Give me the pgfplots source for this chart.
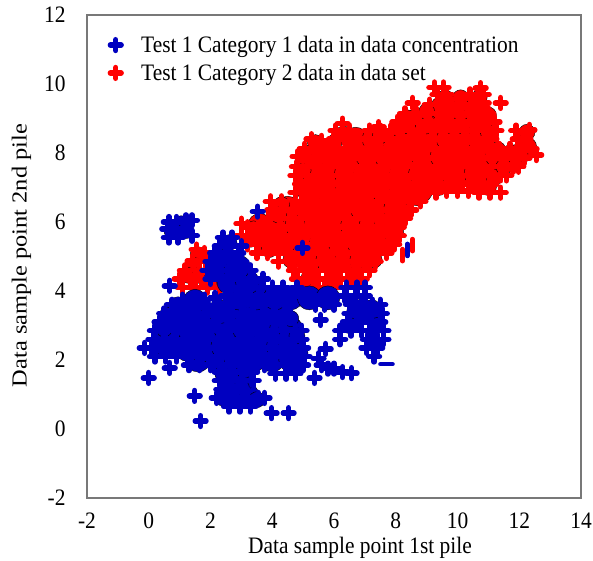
\documentclass[border=0pt]{standalone}
\usepackage{graphicx}
\usepackage{pgfplots}
\pgfplotsset{compat=1.18}
\usepackage{fontspec}
\setmainfont{Liberation Serif}
\definecolor{myblue}{RGB}{0,0,192}
\definecolor{myred}{RGB}{255,0,0}
\definecolor{axgray}{RGB}{120,120,120}
\newcommand\T[1]{\scalebox{1}[1.1]{#1}}
\newcommand\R[1]{\scalebox{1.14}[1]{#1}}
\pgfplotsset{pl/.style={only marks,mark=+,mark size=5.4bp,color=#1,mark options={line width=5.4bp,line cap=round,solid,color=#1}},
 bl/.style={only marks,mark=*,mark size=12bp,forget plot,mark options={draw=none,fill=#1}},
 bs/.style={only marks,mark=*,mark size=8bp,forget plot,mark options={draw=none,fill=#1}}}
\begin{document}
\begin{tikzpicture}[x=1bp,y=1bp]
\path[use as bounding box] (-87bp,-63bp) rectangle (506bp,498bp);
\begin{axis}[
 at={(0,0)},anchor=south west,
 scale only axis,width=494bp,height=483bp,
 xmin=-2,xmax=14,ymin=-2,ymax=12,
 xtick={-2,0,...,14},ytick={-2,0,...,12},
 xticklabels={\T{-2},\T{0},\T{2},\T{4},\T{6},\T{8},\T{10},\T{12},\T{14}},
 yticklabels={\T{-2},\T{0},\T{2},\T{4},\T{6},\T{8},\T{10},\T{12}},
 major tick length=0pt,
 axis line style={draw=axgray,line width=1.1bp},
 tick label style={font=\fontsize{21.5}{21.5}\selectfont},
 xticklabel style={yshift=-11bp},
 yticklabel style={xshift=-18bp},
 label style={font=\fontsize{21.5}{21.5}\selectfont},
 xlabel={\T{Data sample point 1st pile}},
 ylabel={\R{Data sample point 2nd pile}},
 xlabel style={xshift=26bp,yshift=-2bp},
 ylabel style={yshift=6bp,xshift=1bp},
 clip=true,
 legend style={draw=none,fill=none,at={(axis cs:-1.25,11.45)},anchor=north west,
   font=\fontsize{21.5}{21.5}\selectfont,row sep=6bp,inner sep=0pt,
   legend cell align=left},
]
% Category 2 (red), underneath
\addplot[bl=myred] coordinates {
(5.2,4.9)(5.8,4.9)(6.4,4.9)(6.9,4.9)
(3.8,5.4)(4.4,5.4)(5,5.4)(5.6,5.4)(6.2,5.4)(6.8,5.4)(7.4,5.4)
(3.6,5.9)(4.2,5.9)(4.8,5.9)(5.4,5.9)(6,5.9)(6.6,5.9)(7.2,5.9)(7.7,5.9)
(4.5,6.4)(5.1,6.4)(5.7,6.4)(6.3,6.4)(6.9,6.4)(7.5,6.4)(8.0,6.4)
(5.2,6.9)(5.8,6.9)(6.4,6.9)(7,6.9)(7.6,6.9)(8.2,6.9)(8.8,6.9)
(5.2,7.4)(5.8,7.4)(6.4,7.4)(7,7.4)(7.6,7.4)(8.2,7.4)(8.8,7.4)(9.4,7.4)(10,7.4)(10.6,7.4)(11.1,7.4)
(5.3,7.9)(5.9,7.9)(6.5,7.9)(7.1,7.9)(7.7,7.9)(8.3,7.9)(8.9,7.9)(9.5,7.9)(10.1,7.9)(10.7,7.9)(11.3,7.9)(11.9,7.9)
(6.7,8.4)(7.3,8.4)(7.9,8.4)(8.5,8.4)(9.1,8.4)(9.7,8.4)(10.3,8.4)(10.7,8.4)
(8.4,8.9)(9,8.9)(9.6,8.9)(10.2,8.9)(10.7,8.9)
(9.5,9.3)(10.1,9.3)(10.6,9.3)
};
\addplot[bs=myred] coordinates {
(5.0,7.1)(5.0,7.5)(5.0,7.9)(5.4,8.3)(6.0,8.3)(6.3,8.55)(7.5,8.5)(8.1,8.7)(8.5,9.0)(9.0,9.2)(9.6,9.6)(10.1,9.6)(10.7,9.6)(11.0,9.1)(11.0,8.6)
(11.3,8.1)(11.7,8.0)(12.1,8.0)(12.3,8.2)(12.25,8.6)(11.2,7.3)(11.5,7.6)(11,7.0)(10.0,7.1)(9.4,7.0)(8.7,6.7)(8.3,6.3)(8.0,5.7)(7.7,5.3)(7.3,4.9)(6.7,4.5)(6.0,4.4)(5.2,4.4)(4.6,4.9)(3.9,5.2)(3.3,5.5)(3.4,5.8)(4.3,6.5)(4.2,6.2)
(1.6,5.05)(1.45,4.75)(1.3,4.45)(1.65,4.45)(1.95,4.25)
};
\addplot[pl=myred,forget plot] coordinates {
(1.1,4.1)(1.5,4.1)(1.9,4.1)(2.3,4.1)(5.0,4.1)(5.35,4.1)(5.7,4.1)(6.0,4.1)
(1.0,4.35)(1.35,4.35)(1.7,4.35)(2.05,4.35)(2.3,4.35)(4.8,4.35)(5.15,4.35)(5.5,4.35)(5.85,4.35)(6.2,4.35)(6.55,4.35)(6.9,4.35)
(1.17,4.6)(1.65,4.6)(2.0,4.6)(4.7,4.6)(5.05,4.6)(5.4,4.6)(5.75,4.6)(6.1,4.6)(6.45,4.6)(6.8,4.6)(7.15,4.6)
(1.42,4.87)(1.85,4.85)(4.2,4.85)(4.55,4.85)(4.9,4.85)(5.25,4.85)(5.6,4.85)(5.95,4.85)(6.3,4.85)(6.65,4.85)(7.0,4.85)(7.35,4.85)
(1.55,5.2)(1.8,5.1)(3.5,5.1)(3.85,5.1)(4.2,5.1)(4.55,5.1)(4.9,5.1)(5.25,5.1)(5.6,5.1)(5.95,5.1)(6.3,5.1)(6.65,5.1)(7.0,5.1)(7.35,5.1)(7.7,5.1)
(3.2,5.35)(3.55,5.35)(3.9,5.35)(4.25,5.35)(4.6,5.35)(4.95,5.35)(5.3,5.35)(5.65,5.35)(6.0,5.35)(6.35,5.35)(6.7,5.35)(7.05,5.35)(7.4,5.35)(7.75,5.35)(7.95,5.35)
(3.0,5.6)(3.35,5.6)(3.7,5.6)(4.05,5.6)(4.4,5.6)(4.75,5.6)(5.1,5.6)(5.45,5.6)(5.8,5.6)(6.15,5.6)(6.5,5.6)(6.85,5.6)(7.2,5.6)(7.55,5.6)(7.9,5.6)(8.1,5.6)
(3.0,5.95)(3.2,5.85)(3.55,5.85)(3.9,5.85)(4.25,5.85)(4.6,5.85)(4.95,5.85)(5.3,5.85)(5.65,5.85)(6.0,5.85)(6.35,5.85)(6.7,5.85)(7.05,5.85)(7.4,5.85)(7.75,5.85)(8.1,5.85)
(3.9,6.1)(4.25,6.1)(4.6,6.1)(4.95,6.1)(5.3,6.1)(5.65,6.1)(6.0,6.1)(6.35,6.1)(6.7,6.1)(7.05,6.1)(7.4,6.1)(7.75,6.1)(8.1,6.1)(8.3,6.1)
(4.0,6.35)(4.35,6.35)(4.7,6.35)(5.05,6.35)(5.4,6.35)(5.75,6.35)(6.1,6.35)(6.45,6.35)(6.8,6.35)(7.15,6.35)(7.5,6.35)(7.85,6.35)(8.2,6.35)(8.5,6.35)
(3.95,6.6)(4.3,6.6)(4.95,6.6)(5.3,6.6)(5.65,6.6)(6.0,6.6)(6.35,6.6)(6.7,6.6)(7.05,6.6)(7.4,6.6)(7.75,6.6)(8.1,6.6)(8.45,6.6)(8.8,6.6)
(4.75,6.85)(5.1,6.85)(5.45,6.85)(5.8,6.85)(6.15,6.85)(6.5,6.85)(6.85,6.85)(7.2,6.85)(7.55,6.85)(7.9,6.85)(8.25,6.85)(8.6,6.85)(8.95,6.85)(9.3,6.85)(9.65,6.9)(10.0,6.9)(10.35,6.9)(10.7,6.85)(11.05,6.85)(11.4,6.85)
(4.9,7.1)(5.25,7.1)(5.6,7.1)(5.95,7.1)(6.3,7.1)(6.65,7.1)(7.0,7.1)(7.35,7.1)(7.7,7.1)(8.05,7.1)(8.4,7.1)(8.75,7.1)(9.1,7.1)(9.45,7.1)(9.8,7.1)(10.15,7.1)(10.5,7.1)(10.85,7.1)(11.1,7.1)
(4.75,7.35)(5.1,7.35)(5.45,7.35)(5.8,7.35)(6.15,7.35)(6.5,7.35)(6.85,7.35)(7.2,7.35)(7.55,7.35)(7.9,7.35)(8.25,7.35)(8.6,7.35)(8.95,7.35)(9.3,7.35)(9.65,7.35)(10.0,7.35)(10.35,7.35)(10.7,7.35)(11.05,7.35)(11.4,7.35)(11.58,7.35)
(4.8,7.6)(5.15,7.6)(5.5,7.6)(5.85,7.6)(6.2,7.6)(6.55,7.6)(6.9,7.6)(7.25,7.6)(7.6,7.6)(7.95,7.6)(8.3,7.6)(8.65,7.6)(9.0,7.6)(9.35,7.6)(9.7,7.6)(10.05,7.6)(10.4,7.6)(10.75,7.6)(11.1,7.6)(11.45,7.6)(11.8,7.6)(11.97,7.6)
(4.82,7.9)(5.17,7.85)(5.52,7.85)(5.87,7.85)(6.22,7.85)(6.57,7.85)(6.92,7.85)(7.27,7.85)(7.62,7.85)(7.97,7.85)(8.32,7.85)(8.67,7.85)(9.02,7.85)(9.37,7.85)(9.72,7.85)(10.07,7.85)(10.42,7.85)(10.77,7.85)(11.12,7.85)(11.47,7.85)(11.82,7.85)(12.17,7.85)(12.55,7.94)
(5.05,8.12)(5.4,8.12)(5.75,8.12)(6.1,8.12)(6.45,8.12)(6.8,8.12)(7.15,8.12)(7.5,8.12)(7.85,8.12)(8.2,8.12)(8.55,8.12)(8.9,8.12)(9.25,8.12)(9.6,8.12)(9.95,8.12)(10.3,8.12)(10.65,8.12)(11.0,8.12)(11.35,8.12)(11.7,8.12)(12.05,8.12)(12.4,8.12)
(5.27,8.4)(5.6,8.35)(6.0,8.4)(6.35,8.4)(6.7,8.4)(7.05,8.4)(7.4,8.4)(7.75,8.4)(8.1,8.4)(8.45,8.4)(8.8,8.4)(9.15,8.4)(9.5,8.4)(9.85,8.4)(10.2,8.4)(10.55,8.4)(10.9,8.4)(11.1,8.4)(11.95,8.4)(12.2,8.4)
(6.05,8.65)(6.5,8.65)(7.15,8.65)(7.5,8.65)(7.85,8.65)(8.2,8.65)(8.55,8.65)(8.9,8.65)(9.25,8.65)(9.6,8.65)(9.95,8.65)(10.3,8.65)(10.65,8.65)(11.0,8.65)(11.26,8.65)(11.9,8.65)(12.33,8.67)
(6.28,8.85)(7.45,8.75)(8.05,8.9)(8.4,8.9)(8.75,8.9)(9.1,8.9)(9.45,8.9)(9.8,8.9)(10.15,8.9)(10.5,8.9)(10.85,8.9)(11.2,8.9)
(8.3,9.15)(8.65,9.15)(9.0,9.15)(9.35,9.15)(9.7,9.15)(10.05,9.15)(10.4,9.15)(10.75,9.15)(11.0,9.15)
(8.55,9.45)(9.1,9.4)(9.45,9.4)(9.8,9.4)(10.15,9.4)(10.5,9.4)(10.85,9.45)(11.4,9.45)
(9.35,9.7)(9.65,9.7)(10.4,9.7)(10.85,9.7)
(9.25,9.9)(9.55,9.9)(10.75,9.88)
};
% Category 1 (blue)
\addplot[bl=myblue] coordinates {
(2.6,0.95)(3.2,0.95)(2.6,1.4)(3.0,1.4)
(1.6,2.0)(2.2,2.0)(2.8,2.0)(3.4,2.0)(4.0,2.0)(4.6,2.0)
(0.6,2.4)(1.2,2.4)(1.8,2.4)(2.4,2.4)(3.0,2.4)(3.6,2.4)(4.2,2.4)(4.6,2.4)
(0.7,2.9)(1.3,2.9)(1.9,2.9)(2.5,2.9)(3.1,2.9)(3.7,2.9)(4.3,2.9)(4.6,2.9)
(1.0,3.4)(1.6,3.4)(2.3,3.4)(3.1,3.4)(3.7,3.4)(4.0,3.4)(6.8,3.4)(7.2,3.4)
(1.5,3.7)(2.9,3.8)(3.5,3.8)(4.1,3.8)(4.6,3.8)(5.2,3.8)(5.8,3.8)
(2.6,4.25)(3.2,4.25)(2.4,4.7)(2.9,4.7)
};
\addplot[bs=myblue] coordinates {
(0.3,2.5)(0.5,2.9)(0.6,3.3)(0.95,3.6)(1.2,2.2)(1.7,2.15)(2.2,1.9)(4.9,2.2)(4.8,2.7)(4.6,3.2)(2.5,1.2)(3.0,1.2)(2.4,1.6)(3.1,1.7)(2.4,0.9)(3.5,0.85)
(6.5,3.0)(7.4,3.0)(7.3,2.5)(2.2,4.6)(2.3,5.0)(2.6,5.4)(0.85,5.8)(1.05,5.95)(0.75,5.75)(1.2,5.75)
};
\addplot[pl=myblue] coordinates {
(0,1.48)(0.68,1.77)(1.49,0.96)(1.68,0.23)(3.98,0.46)(4.53,0.46)(5.37,1.48)(5.73,2.32)(5.57,3.16)(6.57,1.62)(6.28,1.65)
(2.6,0.65)(2.95,0.65)(3.3,0.65)
(2.2,0.9)(2.5,0.9)(2.85,0.9)(3.2,0.9)(3.55,0.9)(3.75,0.9)
(2.35,1.15)(2.7,1.15)(3.05,1.15)
(2.3,1.4)(2.65,1.4)(3.0,1.4)(3.4,1.4)
(2.3,1.65)(2.65,1.65)(3.0,1.65)(3.35,1.65)(4.1,1.6)(4.45,1.6)(4.75,1.6)(5.8,1.75)(6.0,1.75)
(1.3,1.85)(1.65,1.85)(2.0,1.85)(2.35,1.85)(2.7,1.85)(3.05,1.85)(3.4,1.85)(3.75,1.85)(4.1,1.85)(4.45,1.85)(4.8,1.85)(5.0,1.85)(5.6,1.85)
(0.2,2.1)(0.55,2.1)(0.9,2.1)(1.25,2.1)(1.6,2.1)(1.95,2.1)(2.3,2.1)(2.65,2.1)(3.0,2.1)(3.35,2.1)(3.7,2.1)(4.05,2.1)(4.4,2.1)(4.75,2.1)(5.05,2.1)(5.5,2.05)(7.3,2.1)
(-0.13,2.35)(0.1,2.35)(0.45,2.35)(0.8,2.35)(1.15,2.35)(1.5,2.35)(1.85,2.35)(2.2,2.35)(2.55,2.35)(2.9,2.35)(3.25,2.35)(3.6,2.35)(3.95,2.35)(4.3,2.35)(4.65,2.35)(5.0,2.35)(7.05,2.35)(7.4,2.35)
(0.15,2.6)(0.5,2.6)(0.85,2.6)(1.2,2.6)(1.55,2.6)(1.9,2.6)(2.25,2.6)(2.6,2.6)(2.95,2.6)(3.3,2.6)(3.65,2.6)(4.0,2.6)(4.35,2.6)(4.7,2.6)(4.95,2.6)(6.2,2.6)(7.1,2.6)(7.4,2.6)(7.6,2.6)
(0.2,2.85)(0.55,2.85)(0.9,2.85)(1.25,2.85)(1.6,2.85)(1.95,2.85)(2.3,2.85)(2.65,2.85)(3.0,2.85)(3.35,2.85)(3.7,2.85)(4.05,2.85)(4.4,2.85)(4.75,2.85)(4.95,2.85)(6.2,2.85)(6.55,2.85)(6.9,2.85)(7.25,2.85)(7.6,2.85)
(0.35,3.1)(0.7,3.1)(1.05,3.1)(1.4,3.1)(1.75,3.1)(2.1,3.1)(2.7,3.1)(3.05,3.1)(3.4,3.1)(3.75,3.1)(4.1,3.1)(4.3,3.1)(6.45,3.1)(6.8,3.1)(7.15,3.1)(7.5,3.1)
(0.5,3.35)(0.85,3.35)(1.2,3.35)(1.55,3.35)(1.9,3.35)(2.3,3.3)(2.65,3.35)(3.0,3.35)(3.35,3.35)(3.7,3.35)(4.05,3.35)(4.4,3.35)(6.5,3.35)(6.85,3.35)(7.2,3.35)(7.55,3.35)
(0.75,3.6)(1.1,3.6)(1.45,3.6)(1.8,3.6)(2.7,3.6)(3.05,3.6)(3.4,3.6)(3.75,3.6)(4.1,3.6)(4.45,3.6)(4.6,3.6)(5.4,3.6)(5.7,3.6)(6.0,3.6)(6.55,3.6)(6.9,3.6)(7.25,3.6)(7.5,3.6)
(1.1,3.75)(1.45,3.75)(1.8,3.75)(2.15,3.8)(2.5,3.85)(2.85,3.85)(3.2,3.85)(3.55,3.85)(3.9,3.85)(4.25,3.85)(4.6,3.85)(4.95,3.85)(5.3,3.85)(5.65,3.85)(6.0,3.85)(6.35,3.85)(6.7,3.85)(7.0,3.85)
(0.68,4.15)(2.6,4.1)(2.95,4.1)(3.3,4.1)(3.65,4.1)(4.0,4.1)(4.35,4.1)(4.8,4.1)(6.4,4.1)(6.75,4.1)(7.0,4.1)
(2.0,4.35)(2.35,4.35)(2.7,4.35)(3.05,4.35)(3.4,4.35)(3.7,4.35)
(1.9,4.6)(2.25,4.6)(2.6,4.6)(2.95,4.6)(3.3,4.6)
(2.0,4.85)(2.35,4.85)(2.7,4.85)(3.0,4.85)
(2.15,5.1)(2.5,5.1)(2.9,5.1)
(2.3,5.3)(2.65,5.3)(3.0,5.3)
(2.4,5.55)(2.7,5.55)
(0.65,6.0)(0.9,6.0)(1.2,6.05)(1.4,6.05)
(0.6,5.8)(0.9,5.8)(1.15,5.8)(1.4,5.6)
(0.65,5.55)(0.95,5.55)
(3.53,6.3)(4.98,5.25)
};
\addlegendentry{\hspace*{18bp}\T{Test 1 Category 1 data in data concentration}}
\addlegendimage{pl=myred}
\addlegendentry{\hspace*{18bp}\T{Test 1 Category 2 data in data set}}
\addplot[only marks,mark=-,mark size=6bp,forget plot,mark options={line width=4.6bp,line cap=round,color=myblue}] coordinates {(7.7,1.88)};
\addplot[only marks,mark=|,mark size=6bp,forget plot,mark options={line width=4.6bp,line cap=round,color=myblue}] coordinates {(8.38,5.19)};
\addplot[only marks,mark=|,mark size=6bp,forget plot,mark options={line width=4.6bp,line cap=round,color=myred}] coordinates {(8.54,5.33)(8.22,5.04)};
\end{axis}
\end{tikzpicture}
\end{document}
